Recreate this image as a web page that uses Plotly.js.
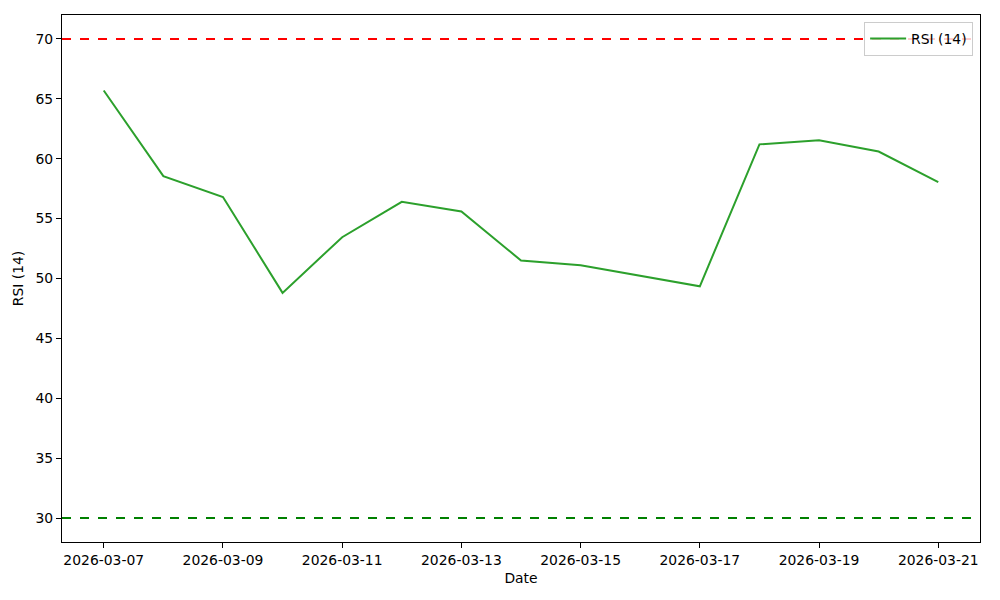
<!DOCTYPE html>
<html>
<head>
<meta charset="utf-8">
<script src="https://cdn.plot.ly/plotly-3.0.1.min.js"></script>
<style>html,body{margin:0;padding:0;background:#fff;}#chart{width:1000px;height:600px;}</style>
</head>
<body>
<div id="chart"></div>
<script>
const dates = ["2026-03-07","2026-03-08","2026-03-09","2026-03-10","2026-03-11","2026-03-12","2026-03-13","2026-03-14","2026-03-15","2026-03-17","2026-03-18","2026-03-19","2026-03-20","2026-03-21"];
const rsi = [65.7, 58.55, 56.8, 48.8, 53.45, 56.4, 55.6, 51.5, 51.1, 49.35, 61.2, 61.55, 60.6, 58.05];
const overbought = 70;
const oversold = 30;
const tickDates = ["2026-03-07","2026-03-09","2026-03-11","2026-03-13","2026-03-15","2026-03-17","2026-03-19","2026-03-21"];
const yTicks = [30,35,40,45,50,55,60,65,70];

const font = {family: "DejaVu Sans", size: 13.9, color: "#000"};

const traces = [
  {x: dates, y: rsi, type: "scatter", mode: "lines", name: "RSI (14)",
   line: {color: "#2ca02c", width: 2}}
];

const layout = {
  width: 1000, height: 600,
  margin: {l: 62, r: 20, t: 15, b: 58},
  paper_bgcolor: "#fff", plot_bgcolor: "#fff",
  font: font,
  showlegend: true,
  legend: {x: 0.9925, y: 0.987, xanchor: "right", yanchor: "top",
    bgcolor: "rgba(255,255,255,0.8)", bordercolor: "#cccccc", borderwidth: 1,
    itemwidth: 36,
    font: {family: "DejaVu Sans", size: 13.9, color: "#000"}},
  xaxis: {
    type: "date",
    range: ["2026-03-06 07:12", "2026-03-21 16:48"],
    tickmode: "array", tickvals: tickDates, ticktext: tickDates,
    showgrid: false, zeroline: false,
    showline: true, mirror: true, linecolor: "#000", linewidth: 1,
    ticks: "outside", ticklen: 5, tickcolor: "#000",
    title: {text: "Date", font: font, standoff: 6}
  },
  yaxis: {
    range: [28, 72],
    tickmode: "array", tickvals: yTicks,
    showgrid: false, zeroline: false,
    showline: true, mirror: true, linecolor: "#000", linewidth: 1,
    ticks: "outside", ticklen: 5, tickcolor: "#000",
    title: {text: "RSI (14)", font: font, standoff: 8}
  },
  shapes: [
    {type: "line", xref: "paper", x0: 0, x1: 1, yref: "y", y0: overbought, y1: overbought,
     line: {color: "#ff0000", width: 2, dash: "dash"}, layer: "below"},
    {type: "line", xref: "paper", x0: 0, x1: 1, yref: "y", y0: oversold, y1: oversold,
     line: {color: "#008000", width: 2, dash: "dash"}, layer: "below"}
  ]
};

Plotly.newPlot("chart", traces, layout, {displayModeBar: false, staticPlot: true});
</script>
</body>
</html>
